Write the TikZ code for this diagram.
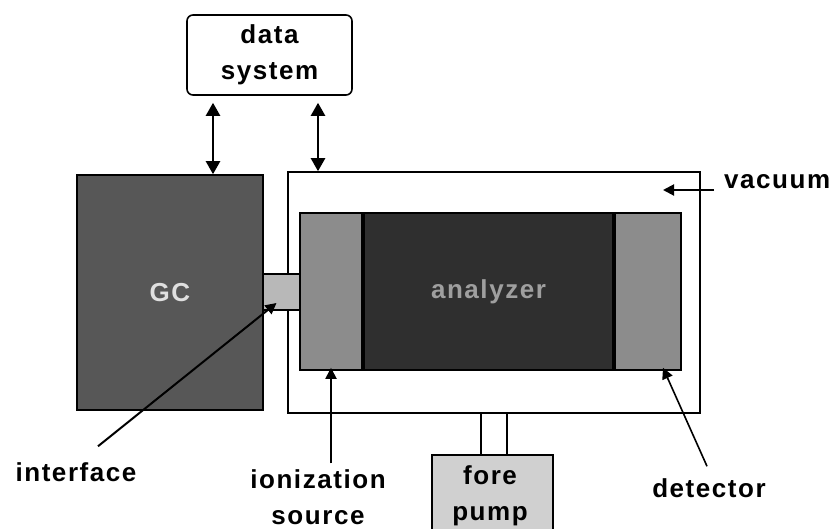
\documentclass[tikz,border=0pt]{standalone}
\usepackage{fontspec}
\setmainfont{Liberation Sans}[LetterSpace=6]
\usetikzlibrary{arrows.meta,calc}
\definecolor{gcgray}{HTML}{575757}
\definecolor{angray}{HTML}{2F2F2F}
\definecolor{midgray}{HTML}{8C8C8C}
\definecolor{ltgray}{HTML}{B8B8B8}
\definecolor{pumpgray}{HTML}{D0D0D0}
\begin{document}
\begin{tikzpicture}[x=1pt,y=-1pt,
        unit/.style={rectangle, draw, line width=1.6pt, inner sep=0pt},
        lbl/.style={font=\fontsize{26}{36}\selectfont\bfseries, align=center, inner sep=0pt},
        link/.style={line width=2.4pt, {Triangle[width=14pt,length=13pt]}-{Triangle[width=14pt,length=13pt]}},
        pointer/.style={line width=2pt, -{Triangle[width=11pt,length=11pt]}}
    ]
    \clip (0,0) rectangle (834,528);
    % data system and the two links
    \node[unit, rounded corners=6pt, minimum width=165pt, minimum height=80pt, lbl] (data) at (269.5,55) {data\\system};
    % gas chromatograph
    \node[unit, fill=gcgray, minimum width=186pt, minimum height=235pt] (gc) at (170,292.5) {};
    \node[lbl, text=gray!25] at (gc.center) {GC};
    % vacuum chamber with source, analyzer, detector
    \node[unit, fill=white, minimum width=412pt, minimum height=241pt] (vac) at (494,292.5) {};
    \node[unit, fill=ltgray, minimum width=37pt, minimum height=36pt] (iface) at (281.5,292) {};
    \node[unit, fill=midgray, minimum width=62pt, minimum height=157pt] (ion) at (331,291.5) {};
    \node[unit, fill=angray, minimum width=249pt, minimum height=157pt, lbl, text=gray!75] (ana) at (488.5,291.5) {analyzer};
    \node[unit, fill=midgray, minimum width=66pt, minimum height=157pt] (det) at (648,291.5) {};
    % fore pump
    \node[unit, fill=pumpgray, minimum width=121pt, minimum height=90pt] (pump) at (492.5,500) {};
    \node[lbl] at (490,496) {fore\\pump};
    \draw[line width=1.4pt] ($(pump.north)+(-11.5,0)$) -- ($(pump.north)+(-11.5,-42)$);
    \draw[line width=1.4pt] ($(pump.north)+(14.5,0)$) -- ($(pump.north)+(14.5,-42)$);
    % links to data system
    \draw[link] (data.south -| 213,0) ++(0,7) -- (gc.north -| 213,0);
    \draw[link] (data.south -| 318,0) ++(0,7) -- (vac.north -| 318,0);
    % labels
    \node[lbl, anchor=west] (vaclbl) at (724,182) {vacuum};
    \node[lbl] (iflbl) at (76,472) {interface};
    \node[lbl] (ionlbl) at (318,497) {ionization\\source};
    \node[lbl] (detlbl) at (709,488) {detector};
    \coordinate (vacpt) at (663,190);
    \draw[pointer] ($(vaclbl.west)+(-10,8)$) -- (vacpt);
    \draw[pointer] ($(iflbl.north)+(22,-16)$) -- ($(iface.center)+(-5,11)$);
    \draw[pointer] (ionlbl.north -| ion.south) ++(0,-6) -- ($(ion.south)+(0,-3)$);
    \draw[pointer, line width=1.6pt] ($(detlbl.north)+(-2,-12)$) -- ($(det.south)+(15,-3)$);
\end{tikzpicture}
\end{document}
